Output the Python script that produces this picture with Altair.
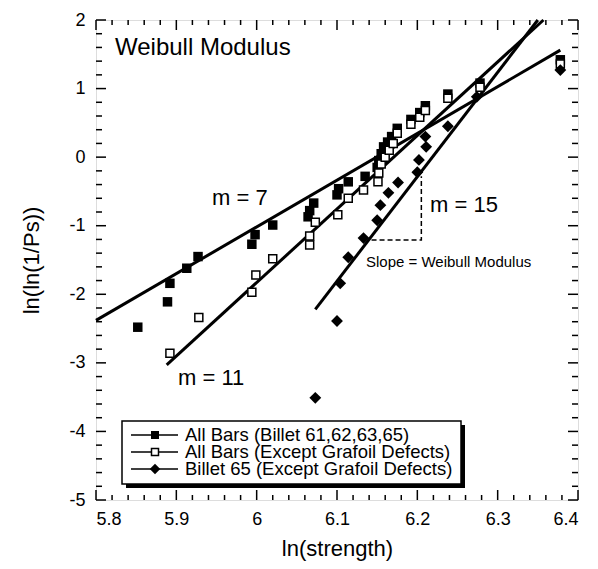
import altair as alt
import pandas as pd

# ---------------- data ----------------
all_x = [5.852, 5.889, 5.892, 5.913, 5.927, 5.994, 5.998, 6.020, 6.064, 6.066,
         6.071, 6.100, 6.102, 6.114, 6.135, 6.150, 6.152, 6.155, 6.158, 6.163,
         6.168, 6.175, 6.192, 6.203, 6.210, 6.238, 6.278, 6.378]
all_y = [-2.48, -2.11, -1.84, -1.62, -1.45, -1.27, -1.13, -0.99, -0.87, -0.78,
         -0.67, -0.55, -0.46, -0.36, -0.28, -0.15, -0.05, 0.05, 0.15, 0.22,
         0.30, 0.42, 0.55, 0.65, 0.75, 0.92, 1.08, 1.42]

exc_x = [5.892, 5.928, 5.994, 5.999, 6.020, 6.066, 6.066, 6.073, 6.101, 6.114,
         6.133, 6.151, 6.152, 6.155, 6.160, 6.165, 6.170, 6.175, 6.192, 6.203,
         6.210, 6.238, 6.278, 6.378]
exc_y = [-2.86, -2.34, -1.97, -1.72, -1.48, -1.28, -1.15, -0.95, -0.84, -0.60,
         -0.48, -0.36, -0.23, -0.10, 0.00, 0.10, 0.20, 0.35, 0.48, 0.58,
         0.68, 0.86, 1.02, 1.36]

b65_x = [6.073, 6.100, 6.104, 6.114, 6.133, 6.150, 6.154, 6.164, 6.176, 6.200,
         6.202, 6.211, 6.210, 6.238, 6.274, 6.378]
b65_y = [-3.51, -2.39, -1.84, -1.46, -1.18, -0.92, -0.70, -0.52, -0.37, -0.22,
         -0.04, 0.15, 0.30, 0.45, 0.88, 1.27]

fit_id = ["m7", "m7", "m11", "m11", "m15", "m15"]
fit_x = [5.800, 6.378, 5.888, 6.357, 6.073, 6.350]
fit_y = [-2.38, 1.56, -3.03, 2.00, -2.22, 2.00]

tri_x = [6.143, 6.205, 6.205]
tri_y = [-1.21, -1.21, -0.28]

legend_labels = ["All Bars (Billet 61,62,63,65)",
                 "All Bars (Except Grafoil Defects)",
                 "Billet 65 (Except Grafoil Defects)"]

x_major = [5.8, 5.9, 6.0, 6.1, 6.2, 6.3, 6.4]
y_major = [-5, -4, -3, -2, -1, 0, 1, 2]
x_minor = [round(5.8 + 0.02 * i, 2) for i in range(31) if i % 5 != 0]
y_minor = [round(-5 + 0.2 * i, 1) for i in range(36) if i % 5 != 0]

# ---------------- chart ----------------
W, H = 482, 480
FONT = "Liberation Sans"

xs = alt.Scale(domain=[5.8, 6.4], nice=False, zero=False)
ys = alt.Scale(domain=[-5, 2], nice=False, zero=False)

x_axis = alt.Axis(values=x_major, labelExpr="'' + datum.value",
                  title="ln(strength)", ticks=False, domain=False,
                  grid=False, labelPadding=10, labelFontSize=18,
                  titleFontSize=22, titleFontWeight="normal",
                  titleY=48, titleBaseline="middle")
y_axis = alt.Axis(values=y_major, labelExpr="'' + datum.value",
                  title="ln(ln(1/Ps))", ticks=False, domain=False,
                  grid=False, labelPadding=11, labelFontSize=18,
                  titleFontSize=22, titleFontWeight="normal",
                  titleX=-65, titleY=240, titleAngle=-90,
                  titleAlign="center", titleBaseline="middle")

df_all = pd.DataFrame({"x": all_x, "y": all_y})
df_exc = pd.DataFrame({"x": exc_x, "y": exc_y})
df_b65 = pd.DataFrame({"x": b65_x, "y": b65_y})
df_fit = pd.DataFrame({"id": fit_id, "x": fit_x, "y": fit_y})
df_tri = pd.DataFrame({"x": tri_x, "y": tri_y, "o": [0, 1, 2]})


def X(f="x"):
    return alt.X(f + ":Q", scale=xs, axis=x_axis)


def Y(f="y"):
    return alt.Y(f + ":Q", scale=ys, axis=y_axis)


fits = alt.Chart(df_fit).mark_line(color="black", strokeWidth=3).encode(
    x=X(), y=Y(), detail="id:N")

tri = alt.Chart(df_tri).mark_line(color="black", strokeWidth=1.5,
                                  strokeDash=[5, 3]).encode(
    x=X(), y=Y(), order="o:Q")

pts_all = alt.Chart(df_all).mark_square(color="black", size=90, opacity=1).encode(x=X(), y=Y())
pts_exc = alt.Chart(df_exc).mark_square(fill="white", stroke="black", strokeWidth=1.5,
                                        size=64, opacity=1).encode(x=X(), y=Y())
pts_b65 = alt.Chart(df_b65).mark_point(shape="diamond", filled=True, color="black",
                                       size=140, opacity=1).encode(x=X(), y=Y())


# inward ticks on all four sides
def ticks(vals, axis, side, length, width):
    if axis == "x":
        d = alt.Chart(pd.DataFrame({"x": vals}))
        enc = dict(x=X())
        if side == "bottom":
            enc.update(y=alt.value(H), y2=alt.value(H - length))
        else:
            enc.update(y=alt.value(0), y2=alt.value(length))
    else:
        d = alt.Chart(pd.DataFrame({"y": vals}))
        enc = dict(y=Y())
        if side == "left":
            enc.update(x=alt.value(0), x2=alt.value(length))
        else:
            enc.update(x=alt.value(W), x2=alt.value(W - length))
    return d.mark_rule(color="black", strokeWidth=width).encode(**enc)


tick_layers = []
for side in ["bottom", "top"]:
    tick_layers.append(ticks(x_major, "x", side, 10, 1.5))
    tick_layers.append(ticks(x_minor, "x", side, 5, 1.5))
for side in ["left", "right"]:
    tick_layers.append(ticks(y_major, "y", side, 10, 1.5))
    tick_layers.append(ticks(y_minor, "y", side, 6, 1.5))


# annotations
def label(txt, x, y, size):
    return alt.Chart(pd.DataFrame({"t": [txt]})).mark_text(
        font=FONT, fontSize=size, align="left", baseline="alphabetic", color="black"
    ).encode(text="t:N", x=alt.value(x), y=alt.value(y))


notes = [
    label("Weibull Modulus", 19, 35, 24),
    label("m = 7", 116, 185, 22),
    label("m = 15", 334, 192, 22),
    label("m = 11", 82, 365, 22),
    label("Slope = Weibull Modulus", 270, 247, 15),
]

# legend box
one = pd.DataFrame({"a": [0]})
LX0, LX1, LY0, LY1 = 26, 365, 401, 464
shadow = alt.Chart(one).mark_rect(color="black").encode(
    x=alt.value(LX0 + 4), x2=alt.value(LX1 + 4), y=alt.value(LY0 + 4), y2=alt.value(LY1 + 4))
box = alt.Chart(one).mark_rect(fill="white", stroke="black", strokeWidth=1.5).encode(
    x=alt.value(LX0), x2=alt.value(LX1), y=alt.value(LY0), y2=alt.value(LY1))

rows = [415, 432, 449]
leg = [shadow, box]
for i, ry in enumerate(rows):
    leg.append(alt.Chart(one).mark_rule(color="black", strokeWidth=1.5).encode(
        x=alt.value(35), x2=alt.value(82), y=alt.value(ry)))
    leg.append(label(legend_labels[i], 89, ry + 6, 18.5))
leg.append(alt.Chart(one).mark_square(color="black", size=64, opacity=1).encode(
    x=alt.value(59), y=alt.value(rows[0])))
leg.append(alt.Chart(one).mark_square(fill="white", stroke="black", strokeWidth=1.5,
                                      size=49, opacity=1).encode(
    x=alt.value(59), y=alt.value(rows[1])))
leg.append(alt.Chart(one).mark_point(shape="diamond", filled=True, color="black",
                                     size=110, opacity=1).encode(
    x=alt.value(59), y=alt.value(rows[2])))

chart = alt.layer(
    fits, tri, pts_all, pts_exc, pts_b65, *tick_layers, *notes, *leg
).properties(
    width=W, height=H,
    autosize=alt.AutoSizeParams(type="none"),
    padding={"left": 88, "top": 12, "right": 12, "bottom": 61},
).configure_view(
    stroke="black", strokeWidth=2, fill="white"
).configure_axis(
    labelFont=FONT, titleFont=FONT, labelColor="black", titleColor="black",
).configure(background="white")

chart.save("out.html", embed_options={"renderer": "svg", "actions": False})
